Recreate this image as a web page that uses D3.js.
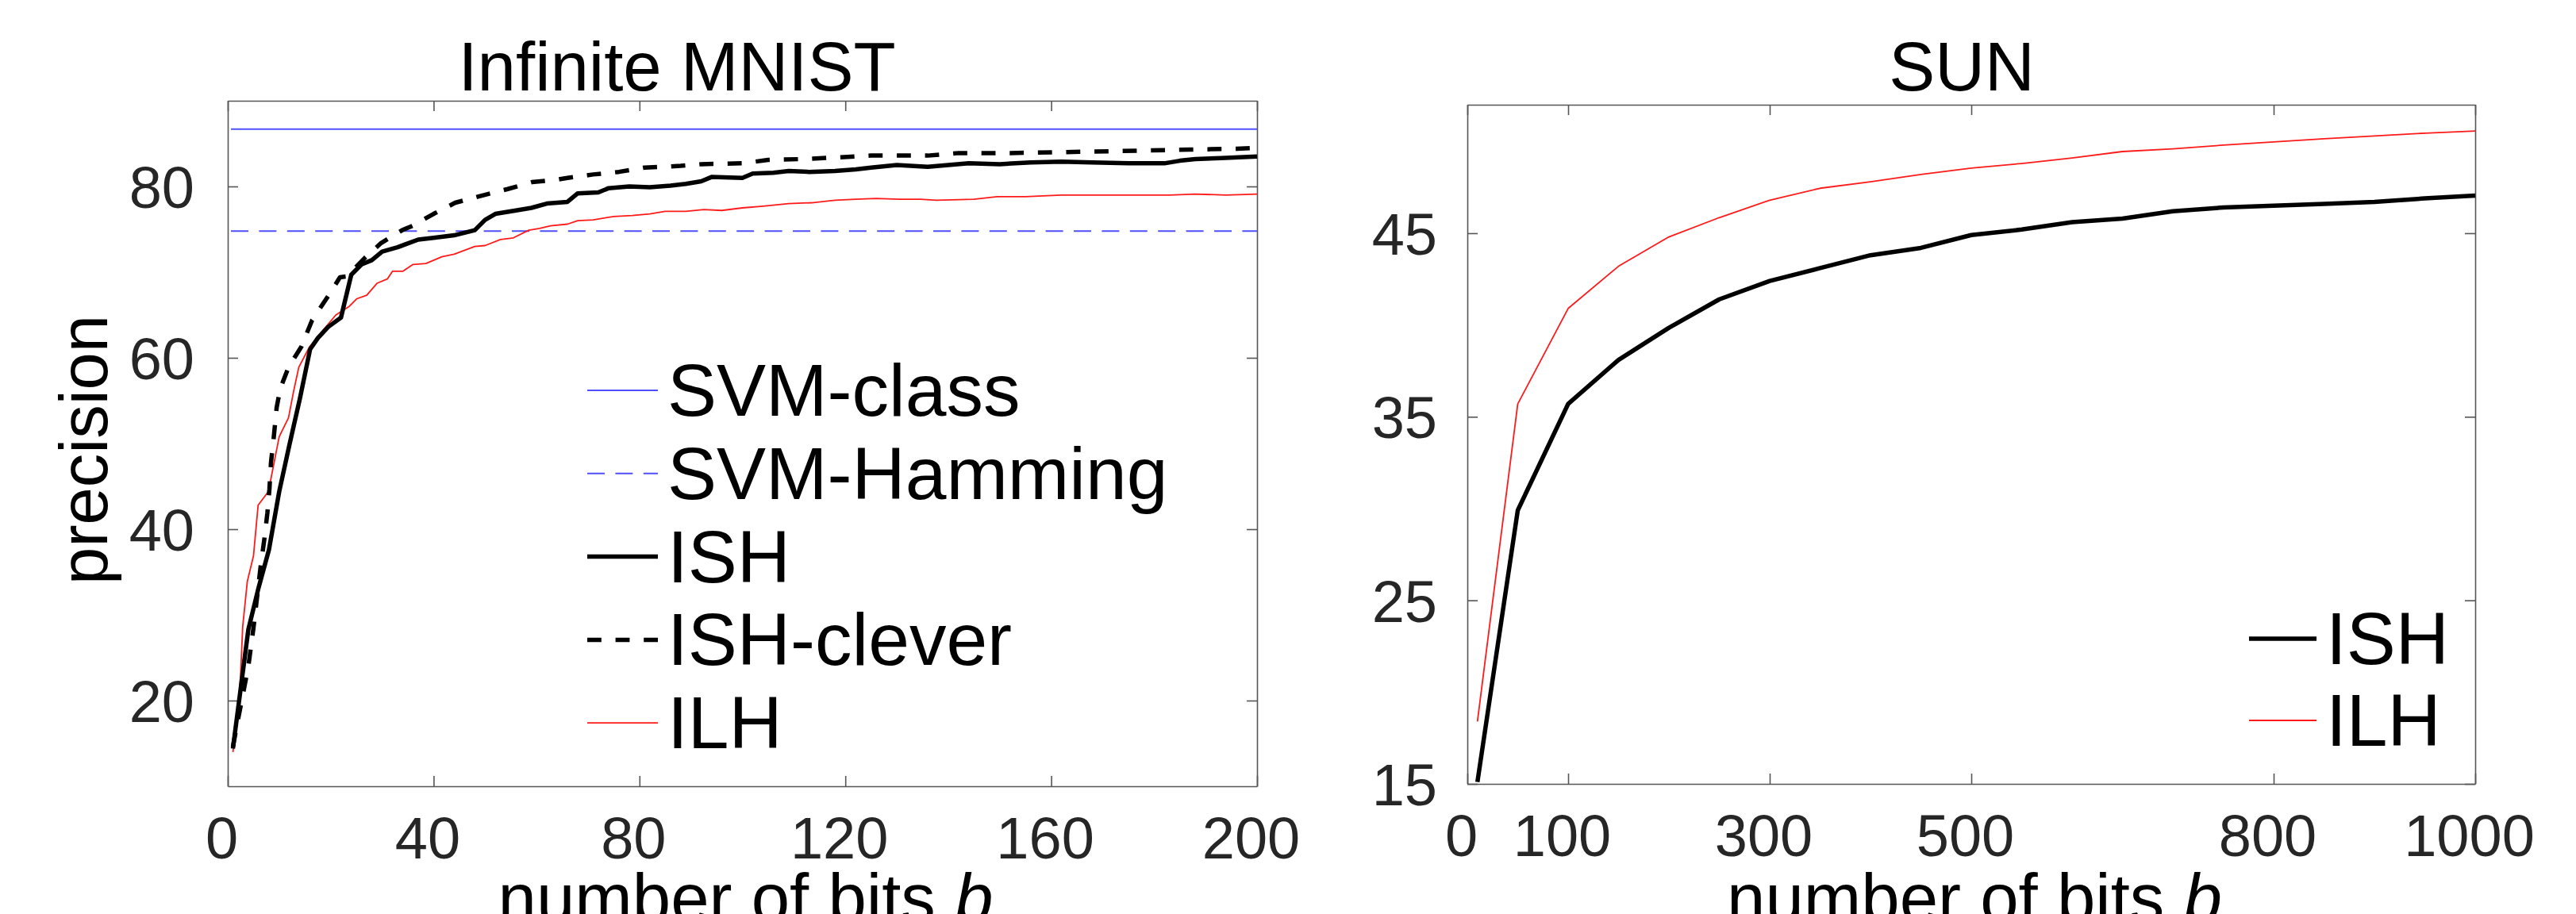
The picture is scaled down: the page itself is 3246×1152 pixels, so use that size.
<!DOCTYPE html>
<html>
<head>
<meta charset="utf-8">
<script src="https://cdn.jsdelivr.net/npm/d3@7"></script>
<style>
  body { margin: 0; background: #fff; }
  svg text { font-family: "Liberation Sans", Arial, Helvetica, sans-serif; }
</style>
</head>
<body>
<div id="chart"></div>
<script>
// ---- Infinite MNIST (left panel) ----
const mnistXTicks = [0, 40, 80, 120, 160, 200];
const mnistYTicks = [20, 40, 60, 80];
const svmClass = 86.7;
const svmHamming = 74.8;

const ishBits = [1, 4, 6, 8, 10, 12, 14, 16, 17.5, 19.5, 22, 24, 26, 28, 30, 33, 37, 40, 44, 48, 50, 52, 56, 59, 62, 66, 68, 72, 74, 78, 82, 86, 89, 92, 94, 100, 102, 106, 109, 113, 118, 122, 125, 130, 136, 144, 150, 156, 162, 168, 175, 182, 185, 188, 193, 200];
const ishPrec = [14.4, 28.3, 33.2, 37.6, 44.4, 49.9, 55.2, 61.0, 62.3, 63.6, 64.7, 69.7, 70.9, 71.4, 72.4, 72.9, 73.8, 74.0, 74.3, 74.9, 76.1, 76.8, 77.2, 77.5, 78.0, 78.2, 79.2, 79.3, 79.8, 80.0, 79.9, 80.1, 80.3, 80.6, 81.1, 81.0, 81.5, 81.6, 81.8, 81.7, 81.8, 82.0, 82.2, 82.5, 82.3, 82.7, 82.6, 82.8, 82.9, 82.8, 82.7, 82.7, 83.0, 83.2, 83.3, 83.5];

const cleverBits = [1, 2, 3, 4, 5, 6.4, 7.1, 7.7, 8.1, 8.4, 8.9, 9.5, 10.2, 11.8, 14.3, 16.4, 19.5, 21.8, 23.1, 26.7, 29.8, 33.9, 35.9, 40, 44.2, 49.8, 54.4, 59.1, 64, 66, 71, 76, 81, 88, 92, 100, 105, 112, 119, 125, 132, 136, 142, 152, 162, 171, 179, 187, 196, 200];
const cleverPrec = [14.6, 17.8, 20.9, 24.0, 28.5, 35.7, 38.8, 41.9, 44.7, 47.8, 50.5, 54.2, 56.4, 58.9, 61.3, 64.4, 67.2, 69.4, 69.5, 71.7, 73.4, 74.9, 75.4, 76.8, 78.1, 79.0, 79.7, 80.5, 80.8, 81.0, 81.4, 81.7, 82.2, 82.4, 82.6, 82.7, 83.1, 83.2, 83.4, 83.6, 83.6, 83.6, 83.9, 83.9, 84.0, 84.1, 84.2, 84.3, 84.4, 84.5];

const ilhBits = [1, 2, 2.5, 2.9, 3.8, 5, 5.9, 7.9, 9.7, 10, 11.8, 12.8, 13.8, 15.9, 18.5, 21, 23.6, 25.1, 27, 29, 31, 32, 34, 36, 38.5, 41.6, 44, 48, 50, 53, 55.5, 58.5, 60.6, 62.7, 66, 68, 71, 75, 78.6, 82, 85, 89, 92.5, 96, 100, 104, 109, 113.5, 118, 122, 126, 130.5, 134.6, 137.7, 145, 149.5, 155, 162, 168.5, 175, 183, 188, 194, 200];
const ilhPrec = [14.0, 18.4, 23.1, 28.6, 33.9, 36.9, 42.8, 44.4, 49.9, 50.8, 53.0, 56.1, 58.9, 61.3, 63.2, 65.0, 66.0, 66.9, 67.3, 68.7, 69.2, 70.1, 70.1, 70.9, 71.0, 71.8, 72.1, 73.0, 73.1, 73.8, 74.0, 74.9, 75.1, 75.4, 75.6, 76.0, 76.1, 76.5, 76.6, 76.8, 77.1, 77.1, 77.3, 77.2, 77.5, 77.7, 78.0, 78.1, 78.4, 78.5, 78.6, 78.5, 78.5, 78.4, 78.5, 78.8, 78.8, 79.0, 79.0, 79.0, 79.0, 79.1, 79.0, 79.1];

// ---- SUN (right panel) ----
const sunXTicks = [0, 100, 300, 500, 800, 1000];
const sunYTicks = [15, 25, 35, 45];
const sunBits = [10, 50, 100, 150, 200, 250, 300, 350, 400, 450, 500, 550, 600, 650, 700, 750, 800, 850, 900, 950, 1000];
const sunIsh = [15.1, 29.9, 35.7, 38.1, 39.85, 41.4, 42.4, 43.1, 43.8, 44.2, 44.9, 45.2, 45.6, 45.8, 46.2, 46.4, 46.5, 46.6, 46.7, 46.9, 47.05];
const sunIlh = [18.4, 35.7, 40.9, 43.2, 44.8, 45.85, 46.8, 47.45, 47.8, 48.2, 48.55, 48.8, 49.1, 49.45, 49.6, 49.8, 49.97, 50.15, 50.3, 50.45, 50.57];

const W = 3246, H = 1152;
const svg = d3.select("#chart").append("svg")
    .attr("width", W)
    .attr("height", H)
    .style("background", "#fff");

const styles = {
  svmClass:   {stroke: "#4f4fff", width: 2,   dash: null},
  svmHamming: {stroke: "#4f4fff", width: 2,   dash: "22,13.4"},
  ish:        {stroke: "#000",    width: 5.5, dash: null},
  clever:     {stroke: "#000",    width: 5.5, dash: "17.8,17.8"},
  ilh:        {stroke: "#ff1a1a", width: 1.8, dash: null}
};

function panel(opt) {
  const x = d3.scaleLinear().domain(opt.xDomain).range([opt.left, opt.right]);
  const y = d3.scaleLinear().domain(opt.yDomain).range([opt.bottom, opt.top]);
  const g = svg.append("g");
  const tick = 13;
  const fmt = d3.format("d");

  // frame + inward ticks on all four sides
  const bottomAxis = g.append("g").attr("transform", `translate(0,${opt.bottom})`)
      .call(d3.axisBottom(x).tickValues(opt.xTicks).tickFormat(fmt).tickSize(-tick).tickSizeOuter(0).tickPadding(0));
  bottomAxis.selectAll("text")
      .attr("y", 91).attr("dy", null).attr("dx", -8)
      .style("font-size", "74px").attr("fill", "#262626");
  g.append("g").attr("transform", `translate(0,${opt.top})`)
      .call(d3.axisTop(x).tickValues(opt.xTicks).tickSize(-tick).tickSizeOuter(0).tickFormat(""));
  const leftAxis = g.append("g").attr("transform", `translate(${opt.left},0)`)
      .call(d3.axisLeft(y).tickValues(opt.yTicks).tickFormat(fmt).tickSize(-tick).tickSizeOuter(0).tickPadding(opt.yPad));
  leftAxis.selectAll("text")
      .attr("dy", "0.36em")
      .style("font-size", "74px").attr("fill", "#262626");
  g.append("g").attr("transform", `translate(${opt.right},0)`)
      .call(d3.axisRight(y).tickValues(opt.yTicks).tickSize(-tick).tickSizeOuter(0).tickFormat(""));
  g.selectAll(".domain, .tick line").attr("stroke", "#555").attr("stroke-width", 1.6);
  g.selectAll(".tick text").attr("font-family", null);

  // horizontal reference lines
  (opt.hlines || []).forEach(h => {
    const s = styles[h.key];
    g.append("line")
        .attr("x1", x(opt.xDomain[0]) + 4).attr("x2", x(opt.xDomain[1]))
        .attr("y1", y(h.value)).attr("y2", y(h.value))
        .attr("stroke", s.stroke).attr("stroke-width", s.width)
        .attr("stroke-dasharray", s.dash);
  });

  // curves
  opt.series.forEach(sr => {
    const s = styles[sr.key];
    const pts = sr.xs.map((v, i) => [v, sr.ys[i]]);
    g.append("path")
        .datum(pts)
        .attr("fill", "none")
        .attr("stroke", s.stroke)
        .attr("stroke-width", s.width)
        .attr("stroke-dasharray", s.dash)
        .attr("stroke-linejoin", "round")
        .attr("d", d3.line().x(d => x(d[0])).y(d => y(d[1])));
  });

  // title and axis labels
  g.append("text").attr("x", opt.titleX).attr("y", 114)
      .attr("text-anchor", "middle").style("font-size", "87px").attr("fill", "#000")
      .text(opt.title);
  const xl = g.append("text").attr("x", (opt.left + opt.right) / 2 + 4).attr("y", 1162)
      .attr("text-anchor", "middle").style("font-size", "87px").attr("fill", "#000");
  xl.append("tspan").text("number of bits ");
  xl.append("tspan").style("font-style", "italic").text("b");
  if (opt.yLabel) {
    g.append("text")
        .attr("transform", `translate(135,${(opt.top + opt.bottom) / 2 + 8}) rotate(-90)`)
        .attr("text-anchor", "middle").style("font-size", "85px").attr("fill", "#000")
        .text(opt.yLabel);
  }

  // legend
  opt.legend.items.forEach((it, i) => {
    const s = styles[it.key];
    const ly = opt.legend.y0 + i * opt.legend.step;
    g.append("line")
        .attr("x1", opt.legend.x0).attr("x2", opt.legend.x1)
        .attr("y1", ly).attr("y2", ly)
        .attr("stroke", s.stroke).attr("stroke-width", s.width)
        .attr("stroke-dasharray", s.dash);
    g.append("text").attr("x", opt.legend.tx).attr("y", ly + 32)
        .style("font-size", "93px").attr("fill", "#000")
        .text(it.label);
  });
}

panel({
  left: 287, right: 1584, top: 127, bottom: 991,
  xDomain: [0, 200], yDomain: [10, 90],
  xTicks: mnistXTicks, yTicks: mnistYTicks, yPad: 42,
  title: "Infinite MNIST", titleX: 853, yLabel: "precision",
  hlines: [{key: "svmClass", value: svmClass}, {key: "svmHamming", value: svmHamming}],
  series: [
    {key: "ilh", xs: ilhBits, ys: ilhPrec},
    {key: "clever", xs: cleverBits, ys: cleverPrec},
    {key: "ish", xs: ishBits, ys: ishPrec}
  ],
  legend: {
    x0: 740, x1: 829, tx: 841, y0: 492, step: 104.8,
    items: [
      {key: "svmClass", label: "SVM-class"},
      {key: "svmHamming", label: "SVM-Hamming"},
      {key: "ish", label: "ISH"},
      {key: "clever", label: "ISH-clever"},
      {key: "ilh", label: "ILH"}
    ]
  }
});

panel({
  left: 1849, right: 3119, top: 132, bottom: 988,
  xDomain: [0, 1000], yDomain: [15, 52],
  xTicks: sunXTicks, yTicks: sunYTicks, yPad: 38,
  title: "SUN", titleX: 2472, yLabel: null,
  series: [
    {key: "ilh", xs: sunBits, ys: sunIlh},
    {key: "ish", xs: sunBits, ys: sunIsh}
  ],
  legend: {
    x0: 2834, x1: 2919, tx: 2931, y0: 805, step: 103,
    items: [
      {key: "ish", label: "ISH"},
      {key: "ilh", label: "ILH"}
    ]
  }
});
</script>
</body>
</html>
